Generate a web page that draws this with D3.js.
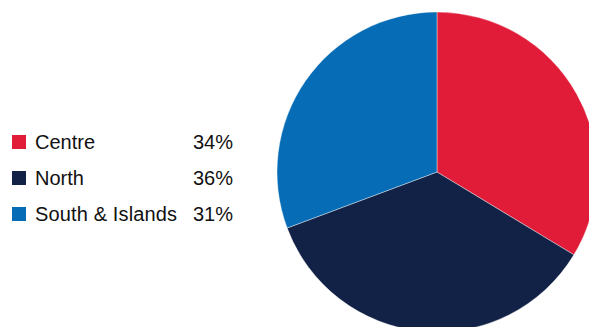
<!DOCTYPE html>
<html>
<head>
<meta charset="utf-8">
<script src="https://cdn.jsdelivr.net/npm/d3@7"></script>
<style>
  body { margin: 0; background: #fff; }
  svg { display: block; }
  .legend text { font-family: "Liberation Sans", Arial, sans-serif; font-size: 20px; fill: #111; }
</style>
</head>
<body>
<div id="chart"></div>
<script>
// Data
var regions = ["Centre", "North", "South & Islands"];
var shares = [34, 36, 31];
var labels = ["34%", "36%", "31%"];
var colours = ["#e11c38", "#122246", "#066cb5"];

var width = 589,
    height = 327,
    radius = 160,
    centre = { x: 437, y: 172 };

var svg = d3.select("#chart").append("svg")
    .attr("width", width)
    .attr("height", height);

var colour = d3.scaleOrdinal()
    .domain(regions)
    .range(colours);

var pie = d3.pie()
    .sort(null)
    .value(function(d, i) { return shares[i]; });

var arc = d3.arc()
    .innerRadius(0)
    .outerRadius(radius);

var g = svg.append("g")
    .attr("transform", "translate(" + centre.x + "," + centre.y + ")");

g.selectAll("path.slice")
    .data(pie(regions))
  .enter().append("path")
    .attr("class", "slice")
    .attr("d", arc)
    .attr("fill", function(d) { return colour(d.data); })
    .attr("stroke", "#fff")
    .attr("stroke-width", 0.4);

// Legend
var rowY = d3.scalePoint()
    .domain(regions)
    .range([142, 214]);

var legend = svg.append("g")
    .attr("class", "legend");

var row = legend.selectAll("g.row")
    .data(regions)
  .enter().append("g")
    .attr("class", "row")
    .attr("transform", function(d) { return "translate(0," + rowY(d) + ")"; });

row.append("rect")
    .attr("x", 12)
    .attr("y", -7)
    .attr("width", 14)
    .attr("height", 14)
    .attr("fill", function(d) { return colour(d); });

row.append("text")
    .attr("x", 35)
    .attr("y", 7)
    .attr("textLength", function(d) { return d === "South & Islands" ? 142 : null; })
    .text(function(d) { return d; });

row.append("text")
    .attr("x", 233)
    .attr("y", 7)
    .attr("text-anchor", "end")
    .text(function(d, i) { return labels[i]; });
</script>
</body>
</html>
